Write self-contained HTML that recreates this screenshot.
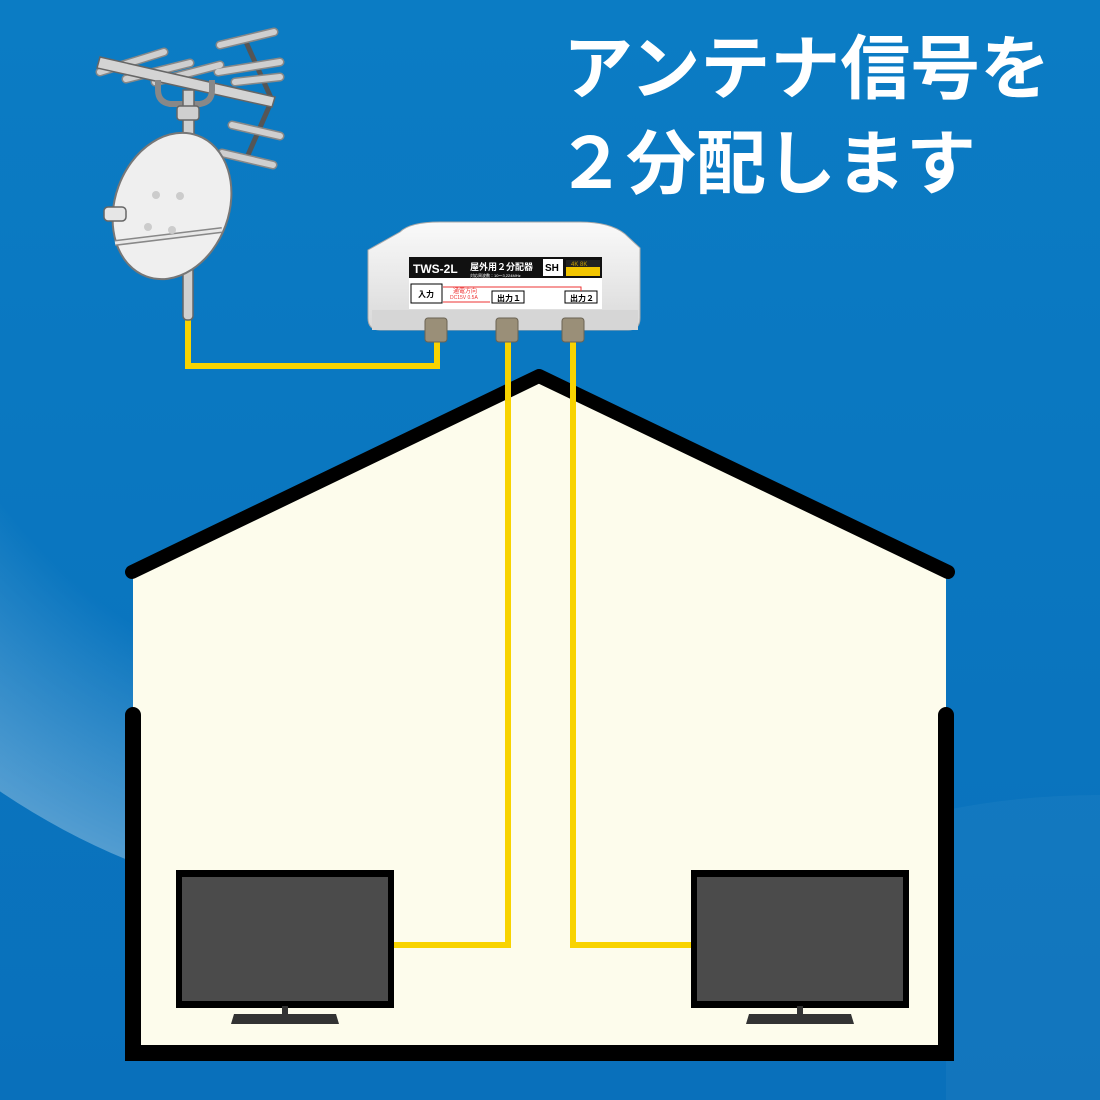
<!DOCTYPE html>
<html><head><meta charset="utf-8"><style>
html,body{margin:0;padding:0;width:1100px;height:1100px;overflow:hidden;background:#0a79c2}
svg{display:block}
</style></head><body>
<svg width="1100" height="1100" viewBox="0 0 1100 1100" xmlns="http://www.w3.org/2000/svg">
<defs>
<linearGradient id="bg" x1="0" y1="0" x2="0" y2="1"><stop offset="0" stop-color="#0b7cc4"/><stop offset="1" stop-color="#0970bb"/></linearGradient>
<radialGradient id="glow" cx="400" cy="200" r="714" gradientUnits="userSpaceOnUse"><stop offset="0.7" stop-color="#ffffff" stop-opacity="0"/><stop offset="1" stop-color="#ffffff" stop-opacity="0.3"/></radialGradient>
<linearGradient id="box" x1="0" y1="0" x2="0" y2="1"><stop offset="0" stop-color="#fafafa"/><stop offset="1" stop-color="#d9d9d9"/></linearGradient>
<clipPath id="lc"><rect x="0" y="480" width="140" height="620"/></clipPath>
</defs>
<rect width="1100" height="1100" fill="url(#bg)"/>
<circle cx="400" cy="200" r="714" fill="url(#glow)" clip-path="url(#lc)"/>
<path d="M946 810 Q1020 795 1100 795 V1100 H946 Z" fill="#ffffff" opacity="0.04"/>
<!-- text -->
<g fill="#fff" font-family="'Liberation Sans','Noto Sans CJK JP',sans-serif" font-size="70" font-weight="bold">
<text x="563" y="93">アンテナ信号を</text>
<text x="556" y="188">２分配します</text>
</g>
<!-- house -->
<polygon points="133,572 539,378 946,572 946,1055 133,1055" fill="#fdfcec"/>
<polyline points="132,572 539,376 948,572" fill="none" stroke="#000" stroke-width="14" stroke-linecap="round" stroke-linejoin="round"/>
<path d="M133 715 V1053 H946 V715" fill="none" stroke="#000" stroke-width="16" stroke-linecap="round"/>
<!-- cables -->
<g fill="none" stroke="#f8d300" stroke-width="6">
<polyline points="188,285 188,366 437,366 437,338"/>
<polyline points="508,338 508,945 393,945"/>
<polyline points="573,338 573,945 692,945"/>
</g>
<!-- TVs -->
<g>
<rect x="176" y="870" width="218" height="138" fill="#000"/>
<rect x="182" y="877" width="206" height="124" fill="#4b4b4b"/>
<rect x="282" y="1006" width="6" height="10" fill="#333"/>
<polygon points="234,1014 336,1014 339,1024 231,1024" fill="#333"/>
<rect x="691" y="870" width="218" height="138" fill="#000"/>
<rect x="697" y="877" width="206" height="124" fill="#4b4b4b"/>
<rect x="797" y="1006" width="6" height="10" fill="#333"/>
<polygon points="749,1014 851,1014 854,1024 746,1024" fill="#333"/>
</g>
<!-- antenna -->
<g stroke="#666" stroke-width="1.5" fill="#cfcfcf">
<rect x="183" y="250" width="10" height="70" rx="4" fill="#d0d0d0"/>
<line x1="246" y1="42" x2="272" y2="100" stroke="#555" stroke-width="5"/>
<line x1="272" y1="100" x2="248" y2="155" stroke="#555" stroke-width="5"/>
<g stroke-linecap="round" stroke="#888" stroke-width="9">
<line x1="220" y1="45" x2="274" y2="32"/>
<line x1="100" y1="72" x2="164" y2="52"/>
<line x1="126" y1="79" x2="190" y2="63"/>
<line x1="155" y1="82" x2="220" y2="65"/>
<line x1="218" y1="72" x2="280" y2="62"/>
<line x1="235" y1="82" x2="280" y2="77"/>
<line x1="232" y1="125" x2="280" y2="136"/>
<line x1="222" y1="153" x2="273" y2="165"/>
</g>
<g stroke-linecap="round" stroke="#cfcfcf" stroke-width="6">
<line x1="220" y1="45" x2="274" y2="32"/>
<line x1="100" y1="72" x2="164" y2="52"/>
<line x1="126" y1="79" x2="190" y2="63"/>
<line x1="155" y1="82" x2="220" y2="65"/>
<line x1="218" y1="72" x2="280" y2="62"/>
<line x1="235" y1="82" x2="280" y2="77"/>
<line x1="232" y1="125" x2="280" y2="136"/>
<line x1="222" y1="153" x2="273" y2="165"/>
</g>
<polygon points="100,57 275,97 272,107 97,68" fill="#d4d4d4"/>
<path d="M158 80 v10 q0 12 12 14 h30 q12-2 12-14 v-10" fill="none" stroke="#888" stroke-width="6"/>
<rect x="183" y="90" width="11" height="60" fill="#d0d0d0"/>
<rect x="177" y="106" width="22" height="14" rx="3"/>
<ellipse cx="172" cy="206" rx="57" ry="75" transform="rotate(20 172 206)" fill="#efefef" stroke="#777" stroke-width="2"/>
<rect x="104" y="207" width="22" height="14" rx="4" fill="#e6e6e6"/>
<line x1="115" y1="243" x2="222" y2="230" stroke="#888" stroke-width="6"/>
<line x1="115" y1="243" x2="222" y2="230" stroke="#e8e8e8" stroke-width="3"/>
<g fill="#ccc" stroke="none"><circle cx="156" cy="195" r="4"/><circle cx="180" cy="196" r="4"/><circle cx="148" cy="227" r="4"/><circle cx="172" cy="230" r="4"/></g>
</g>
<!-- splitter -->
<g>
<path d="M400 232 Q410 222 440 222 H580 Q610 222 625 234 L640 248 V318 Q640 330 628 330 H380 Q368 330 368 318 V250 Z" fill="url(#box)" stroke="#aaa"/>
<rect x="372" y="310" width="266" height="20" fill="#d6d6d6"/>
<rect x="409" y="257" width="193" height="52" fill="#fff"/>
<rect x="409" y="257" width="193" height="21" fill="#111"/>
<text x="413" y="273" font-family="'Liberation Sans',sans-serif" font-weight="bold" font-size="12" fill="#fff">TWS-2L</text>
<text x="470" y="270" font-family="'Liberation Sans','Noto Sans CJK JP',sans-serif" font-weight="bold" font-size="9" fill="#fff">屋外用２分配器</text>
<text x="470" y="277" font-family="'Liberation Sans','Noto Sans CJK JP',sans-serif" font-size="4" fill="#fff">対応周波数：10～3,224MHz</text>
<rect x="543" y="259" width="20" height="17" fill="#fff"/>
<text x="545" y="271" font-family="'Liberation Sans',sans-serif" font-weight="bold" font-size="10" fill="#000">SH</text>
<rect x="566" y="260" width="34" height="7" fill="#222"/>
<text x="571" y="266" font-family="'Liberation Sans',sans-serif" font-size="6" fill="#c9a000">4K 8K</text>
<rect x="566" y="267" width="34" height="9" fill="#f2c500"/>
<rect x="411" y="284" width="31" height="19" fill="#fff" stroke="#000"/>
<text x="418" y="297" font-family="'Noto Sans CJK JP',sans-serif" font-size="8" font-weight="bold">入力</text>
<rect x="492" y="291" width="32" height="12" fill="#fff" stroke="#000"/>
<text x="497" y="301" font-family="'Liberation Sans','Noto Sans CJK JP',sans-serif" font-size="8" font-weight="bold">出力１</text>
<rect x="565" y="291" width="32" height="12" fill="#fff" stroke="#000"/>
<text x="570" y="301" font-family="'Liberation Sans','Noto Sans CJK JP',sans-serif" font-size="8" font-weight="bold">出力２</text>
<polyline points="443,287 581,287 581,291" fill="none" stroke="#e33" stroke-width="1"/>
<line x1="443" y1="302" x2="490" y2="302" stroke="#e33"/>
<text x="453" y="293" font-family="'Noto Sans CJK JP',sans-serif" font-size="6" fill="#e33">通電方向</text>
<text x="450" y="299" font-family="'Liberation Sans',sans-serif" font-size="5" fill="#e33">DC15V 0.5A</text>
<g fill="#9a8f78" stroke="#6b6353">
<rect x="425" y="318" width="22" height="24" rx="3"/>
<rect x="496" y="318" width="22" height="24" rx="3"/>
<rect x="562" y="318" width="22" height="24" rx="3"/>
</g>
</g>
</svg>
</body></html>
